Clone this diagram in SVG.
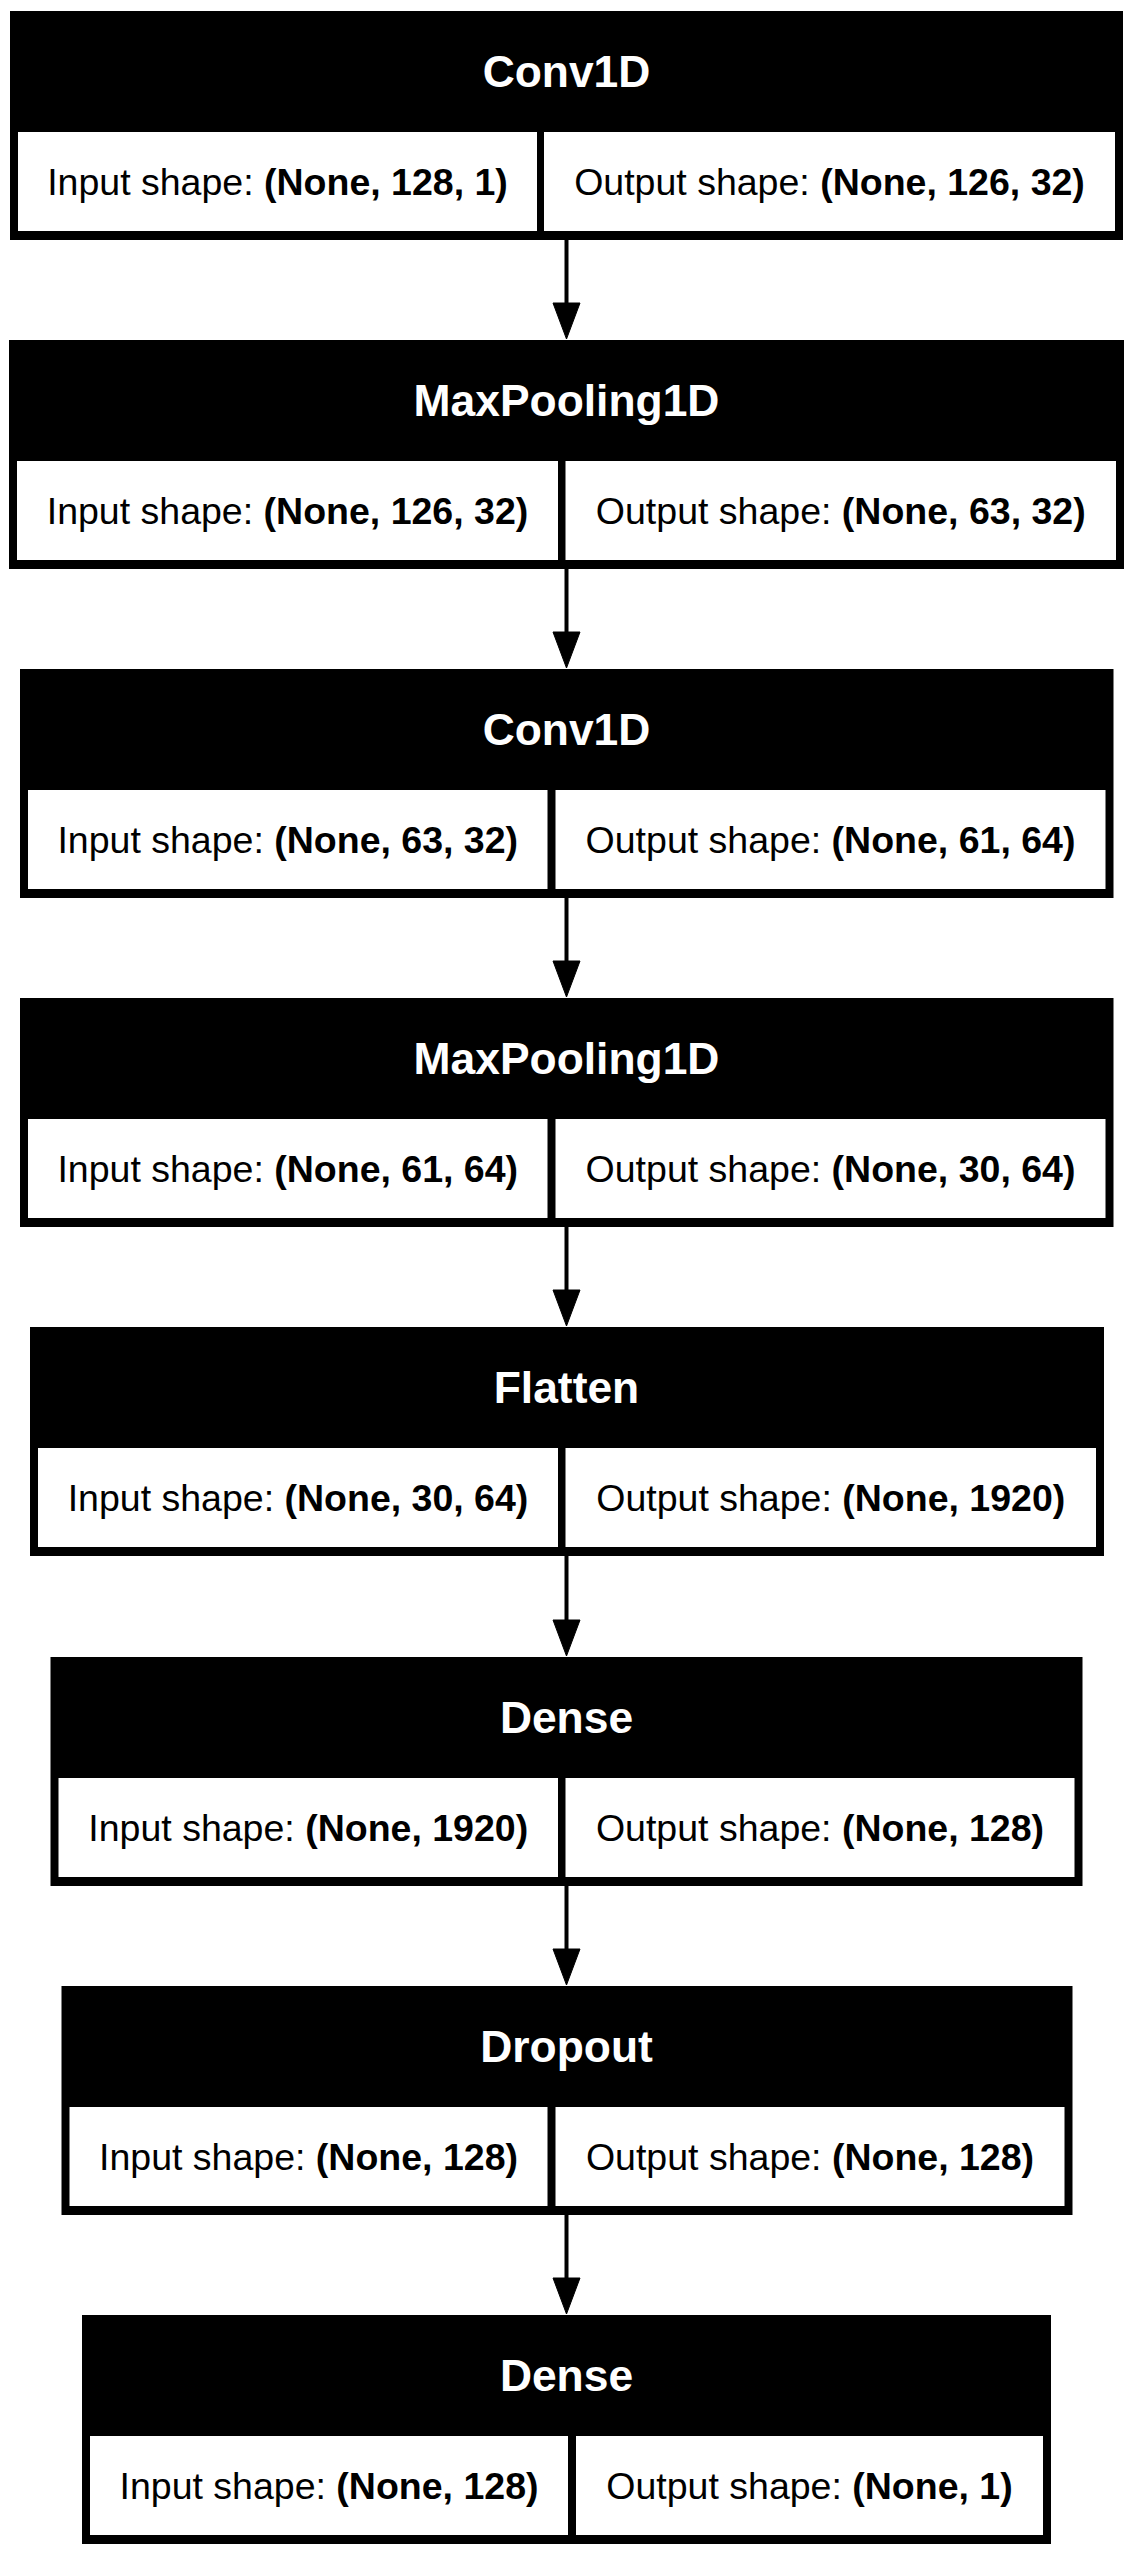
<svg xmlns="http://www.w3.org/2000/svg" width="1134" height="2556" viewBox="0 0 1134 2556">
<defs>
<style>
.box{fill:#000;}
.cell{fill:#fff;}
.title{font-family:"Liberation Sans",Arial,Helvetica,sans-serif;font-weight:bold;font-size:44.4px;fill:#fff;text-anchor:middle;}
.lbl{font-family:"Liberation Sans",Arial,Helvetica,sans-serif;font-size:37.5px;fill:#000;text-anchor:middle;}
.b{font-weight:bold;}
.edge{stroke:#000;stroke-width:4;fill:none;}
.head{fill:#000;stroke:#000;stroke-width:1;}
</style>
</defs>
<rect width="1134" height="2556" fill="#fff"/>
<g id="connectors">
<line class="edge" x1="566.5" y1="240" x2="566.5" y2="303"/><polygon class="head" points="553,303 580,303 566.5,339"/>
<line class="edge" x1="566.5" y1="569" x2="566.5" y2="632"/><polygon class="head" points="553,632 580,632 566.5,668"/>
<line class="edge" x1="566.5" y1="898" x2="566.5" y2="961"/><polygon class="head" points="553,961 580,961 566.5,997"/>
<line class="edge" x1="566.5" y1="1227" x2="566.5" y2="1290"/><polygon class="head" points="553,1290 580,1290 566.5,1326"/>
<line class="edge" x1="566.5" y1="1556" x2="566.5" y2="1620"/><polygon class="head" points="553,1620 580,1620 566.5,1656"/>
<line class="edge" x1="566.5" y1="1886" x2="566.5" y2="1949"/><polygon class="head" points="553,1949 580,1949 566.5,1985"/>
<line class="edge" x1="566.5" y1="2215" x2="566.5" y2="2278"/><polygon class="head" points="553,2278 580,2278 566.5,2314"/>
</g>
<g id="node1">
<rect class="box" x="10" y="11" width="1113" height="229"/>
<rect class="cell" x="18" y="132" width="519" height="99"/>
<rect class="cell" x="544" y="132" width="571" height="99"/>
<text class="title" x="566.5" y="87">Conv1D</text>
<text class="lbl" x="277.5" y="194.5">Input shape: <tspan class="b">(None, 128, 1)</tspan></text>
<text class="lbl" x="829.5" y="194.5">Output shape: <tspan class="b">(None, 126, 32)</tspan></text>
</g>
<g id="node2">
<rect class="box" x="9" y="340" width="1115" height="229"/>
<rect class="cell" x="17" y="461" width="541" height="99"/>
<rect class="cell" x="565.5" y="461" width="550.5" height="99"/>
<text class="title" x="566.5" y="416">MaxPooling1D</text>
<text class="lbl" x="287.5" y="523.5">Input shape: <tspan class="b">(None, 126, 32)</tspan></text>
<text class="lbl" x="840.75" y="523.5">Output shape: <tspan class="b">(None, 63, 32)</tspan></text>
</g>
<g id="node3">
<rect class="box" x="20" y="669" width="1093.5" height="229"/>
<rect class="cell" x="28" y="790" width="519.5" height="99"/>
<rect class="cell" x="555.5" y="790" width="550" height="99"/>
<text class="title" x="566.5" y="745">Conv1D</text>
<text class="lbl" x="287.75" y="852.5">Input shape: <tspan class="b">(None, 63, 32)</tspan></text>
<text class="lbl" x="830.5" y="852.5">Output shape: <tspan class="b">(None, 61, 64)</tspan></text>
</g>
<g id="node4">
<rect class="box" x="20" y="998" width="1093.5" height="229"/>
<rect class="cell" x="28" y="1119" width="519.5" height="99"/>
<rect class="cell" x="555.5" y="1119" width="550" height="99"/>
<text class="title" x="566.5" y="1074">MaxPooling1D</text>
<text class="lbl" x="287.75" y="1181.5">Input shape: <tspan class="b">(None, 61, 64)</tspan></text>
<text class="lbl" x="830.5" y="1181.5">Output shape: <tspan class="b">(None, 30, 64)</tspan></text>
</g>
<g id="node5">
<rect class="box" x="30" y="1327" width="1074" height="229"/>
<rect class="cell" x="38" y="1448" width="520" height="99"/>
<rect class="cell" x="565.5" y="1448" width="530.5" height="99"/>
<text class="title" x="566.5" y="1403">Flatten</text>
<text class="lbl" x="298" y="1510.5">Input shape: <tspan class="b">(None, 30, 64)</tspan></text>
<text class="lbl" x="830.75" y="1510.5">Output shape: <tspan class="b">(None, 1920)</tspan></text>
</g>
<g id="node6">
<rect class="box" x="50.5" y="1657" width="1032" height="229"/>
<rect class="cell" x="58.5" y="1778" width="499.5" height="99"/>
<rect class="cell" x="565.5" y="1778" width="509" height="99"/>
<text class="title" x="566.5" y="1733">Dense</text>
<text class="lbl" x="308.25" y="1840.5">Input shape: <tspan class="b">(None, 1920)</tspan></text>
<text class="lbl" x="820" y="1840.5">Output shape: <tspan class="b">(None, 128)</tspan></text>
</g>
<g id="node7">
<rect class="box" x="61.5" y="1986" width="1011" height="229"/>
<rect class="cell" x="69.5" y="2107" width="478" height="99"/>
<rect class="cell" x="555.5" y="2107" width="509" height="99"/>
<text class="title" x="566.5" y="2062">Dropout</text>
<text class="lbl" x="308.5" y="2169.5">Input shape: <tspan class="b">(None, 128)</tspan></text>
<text class="lbl" x="810" y="2169.5">Output shape: <tspan class="b">(None, 128)</tspan></text>
</g>
<g id="node8">
<rect class="box" x="82" y="2315" width="969" height="229"/>
<rect class="cell" x="90" y="2436" width="478" height="99"/>
<rect class="cell" x="576" y="2436" width="467" height="99"/>
<text class="title" x="566.5" y="2391">Dense</text>
<text class="lbl" x="329" y="2498.5">Input shape: <tspan class="b">(None, 128)</tspan></text>
<text class="lbl" x="809.5" y="2498.5">Output shape: <tspan class="b">(None, 1)</tspan></text>
</g>
</svg>
